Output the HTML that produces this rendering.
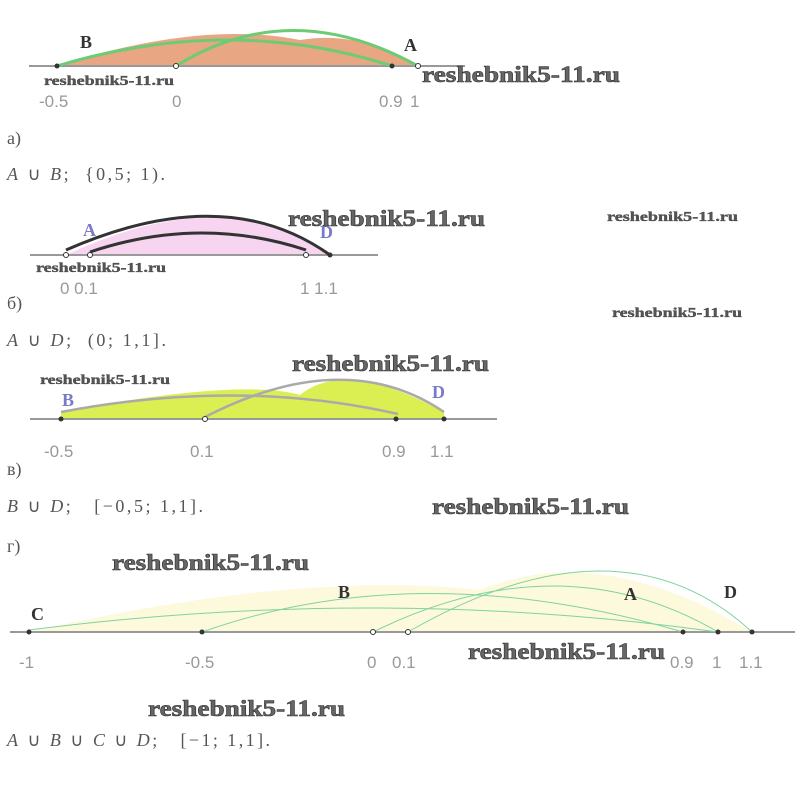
<!DOCTYPE html>
<html><head><meta charset="utf-8"><style>
html,body{margin:0;padding:0;background:#fff;width:805px;height:789px;overflow:hidden}
svg{display:block}
text{white-space:pre}
.t{font-family:"Liberation Sans",sans-serif;font-size:17px;fill:#999}
.f{font-family:"Liberation Serif",serif;font-size:18px;fill:#555}
.fi{font-style:italic}
.wl{font-family:"Liberation Serif",serif;font-weight:bold;font-size:23px;fill:#666;stroke:#333;stroke-width:0.6}
.ws{font-family:"Liberation Serif",serif;font-weight:bold;font-size:14px;fill:#555;stroke:#333;stroke-width:0.3}
.lb{font-family:"Liberation Serif",serif;font-weight:bold;font-size:18px;fill:#333}
.lv{font-family:"Liberation Serif",serif;font-weight:bold;font-size:18px;fill:#7a7ac8}
</style></head><body>
<svg width="805" height="789" viewBox="0 0 805 789">
<!-- a -->
<path d="M57 66 Q230 14 418 66 Z" fill="#e8a682"/>
<path d="M57 66 Q200 20 300 40 Q360 30 418 66Z" fill="#e8a682"/>
<line x1="29" y1="66" x2="465" y2="66" stroke="#999" stroke-width="2"/>
<path d="M57 66 Q230 14 392 66" fill="none" stroke="#6ccb74" stroke-width="3"/>
<path d="M176 66 Q290 -5 418 66" fill="none" stroke="#6ccb74" stroke-width="3"/>
<circle cx="57" cy="66" r="2.5" fill="#333"/><circle cx="176" cy="66" r="2.5" fill="#fff" stroke="#333"/>
<circle cx="392" cy="66" r="2.5" fill="#333"/><circle cx="418" cy="66" r="2.5" fill="#fff" stroke="#333"/>
<text x="80" y="48" class="lb">B</text><text x="404" y="51" class="lb">A</text>
<text x="422" y="82" class="wl" textLength="198" lengthAdjust="spacingAndGlyphs">reshebnik5-11.ru</text>
<text x="44" y="85" class="ws" textLength="130" lengthAdjust="spacingAndGlyphs">reshebnik5-11.ru</text>
<text x="39" y="107" class="t">-0.5</text><text x="172" y="107" class="t">0</text><text x="379" y="107" class="t">0.9</text><text x="410" y="107" class="t">1</text>
<text x="7" y="144" class="f">а)</text>
<text x="7" y="180" class="f" textLength="158" lengthAdjust="spacing"><tspan class="fi">A</tspan> ∪ <tspan class="fi">B</tspan>;  {0,5; 1).</text>
<!-- б -->
<path d="M66 255 Q225 180 330 255 Z" fill="#f7d4f0"/>
<line x1="30" y1="255" x2="378" y2="255" stroke="#999" stroke-width="2"/>
<path d="M66 250 Q225 180 330 255" fill="none" stroke="#333" stroke-width="3"/>
<path d="M90 252 Q200 215 306 250" fill="none" stroke="#333" stroke-width="3"/>
<circle cx="66" cy="255" r="2.5" fill="#fff" stroke="#333"/><circle cx="90" cy="255" r="2.5" fill="#fff" stroke="#333"/>
<circle cx="306" cy="255" r="2.5" fill="#fff" stroke="#333"/><circle cx="330" cy="255" r="2.5" fill="#333"/>
<text x="83" y="236" class="lv">A</text><text x="320" y="238" class="lv">D</text>
<text x="288" y="226" class="wl" textLength="197" lengthAdjust="spacingAndGlyphs">reshebnik5-11.ru</text>
<text x="607" y="221" class="ws" textLength="131" lengthAdjust="spacingAndGlyphs">reshebnik5-11.ru</text>
<text x="36" y="272" class="ws" textLength="130" lengthAdjust="spacingAndGlyphs">reshebnik5-11.ru</text>
<text x="612" y="317" class="ws" textLength="130" lengthAdjust="spacingAndGlyphs">reshebnik5-11.ru</text>
<text x="60" y="294" class="t">0 0.1</text><text x="300" y="294" class="t">1 1.1</text>
<text x="7" y="309" class="f">б)</text>
<text x="7" y="346" class="f" textLength="159" lengthAdjust="spacing"><tspan class="fi">A</tspan> ∪ <tspan class="fi">D</tspan>;  (0; 1,1].</text>
<!-- в -->
<path d="M61 419 L61 412 Q240 378 300 395 Q345 358 444 412 L444 419 Z" fill="#dcef52"/>
<line x1="30" y1="419" x2="497" y2="419" stroke="#999" stroke-width="2"/>
<path d="M61 412 Q240 378 398 414" fill="none" stroke="#aaa" stroke-width="2.5"/>
<path d="M205 417 Q345 345 444 412" fill="none" stroke="#aaa" stroke-width="2.5"/>
<circle cx="61" cy="419" r="2.5" fill="#333"/><circle cx="205" cy="419" r="2.5" fill="#fff" stroke="#333"/>
<circle cx="396" cy="419" r="2.5" fill="#333"/><circle cx="444" cy="419" r="2.5" fill="#333"/>
<text x="62" y="406" class="lv">B</text><text x="432" y="398" class="lv">D</text>
<text x="292" y="371" class="wl" textLength="197" lengthAdjust="spacingAndGlyphs">reshebnik5-11.ru</text>
<text x="40" y="384" class="ws" textLength="130" lengthAdjust="spacingAndGlyphs">reshebnik5-11.ru</text>
<text x="44" y="457" class="t">-0.5</text><text x="190" y="457" class="t">0.1</text><text x="382" y="457" class="t">0.9</text><text x="430" y="457" class="t">1.1</text>
<text x="7" y="475" class="f">в)</text>
<text x="7" y="512" class="f" textLength="196" lengthAdjust="spacing"><tspan class="fi">B</tspan> ∪ <tspan class="fi">D</tspan>;   [−0,5; 1,1].</text>
<text x="432" y="514" class="wl" textLength="197" lengthAdjust="spacingAndGlyphs">reshebnik5-11.ru</text>
<!-- г -->
<text x="7" y="552" class="f">г)</text>
<path d="M29 632 Q300 570 480 590 Q600 540 752 632 Z" fill="#fcf9dc"/>
<line x1="10" y1="632" x2="795" y2="632" stroke="#999" stroke-width="2"/>
<g fill="none" stroke="#7fd3a0" stroke-width="1">
<path d="M29 630 Q380 585 718 632"/>
<path d="M202 632 Q420 555 683 632"/>
<path d="M373 632 Q560 540 718 632"/>
<path d="M408 632 Q620 510 752 632"/>
</g>
<circle cx="29" cy="632" r="2.5" fill="#333"/><circle cx="202" cy="632" r="2.5" fill="#333"/>
<circle cx="373" cy="632" r="2.5" fill="#fff" stroke="#333"/><circle cx="408" cy="632" r="2.5" fill="#fff" stroke="#333"/>
<circle cx="683" cy="632" r="2.5" fill="#333"/><circle cx="718" cy="632" r="2.5" fill="#333"/><circle cx="752" cy="632" r="2.5" fill="#333"/>
<text x="31" y="620" class="lb">C</text><text x="338" y="598" class="lb">B</text><text x="624" y="600" class="lb">A</text><text x="724" y="598" class="lb">D</text>
<text x="112" y="570" class="wl" textLength="197" lengthAdjust="spacingAndGlyphs">reshebnik5-11.ru</text>
<text x="468" y="659" class="wl" textLength="197" lengthAdjust="spacingAndGlyphs">reshebnik5-11.ru</text>
<text x="148" y="716" class="wl" textLength="197" lengthAdjust="spacingAndGlyphs">reshebnik5-11.ru</text>
<text x="19" y="668" class="t">-1</text><text x="185" y="668" class="t">-0.5</text><text x="367" y="668" class="t">0</text><text x="392" y="668" class="t">0.1</text>
<text x="670" y="668" class="t">0.9</text><text x="712" y="668" class="t">1</text><text x="739" y="668" class="t">1.1</text>
<text x="7" y="746" class="f" textLength="263" lengthAdjust="spacing"><tspan class="fi">A</tspan> ∪ <tspan class="fi">B</tspan> ∪ <tspan class="fi">C</tspan> ∪ <tspan class="fi">D</tspan>;   [−1; 1,1].</text>
</svg>
</body></html>
